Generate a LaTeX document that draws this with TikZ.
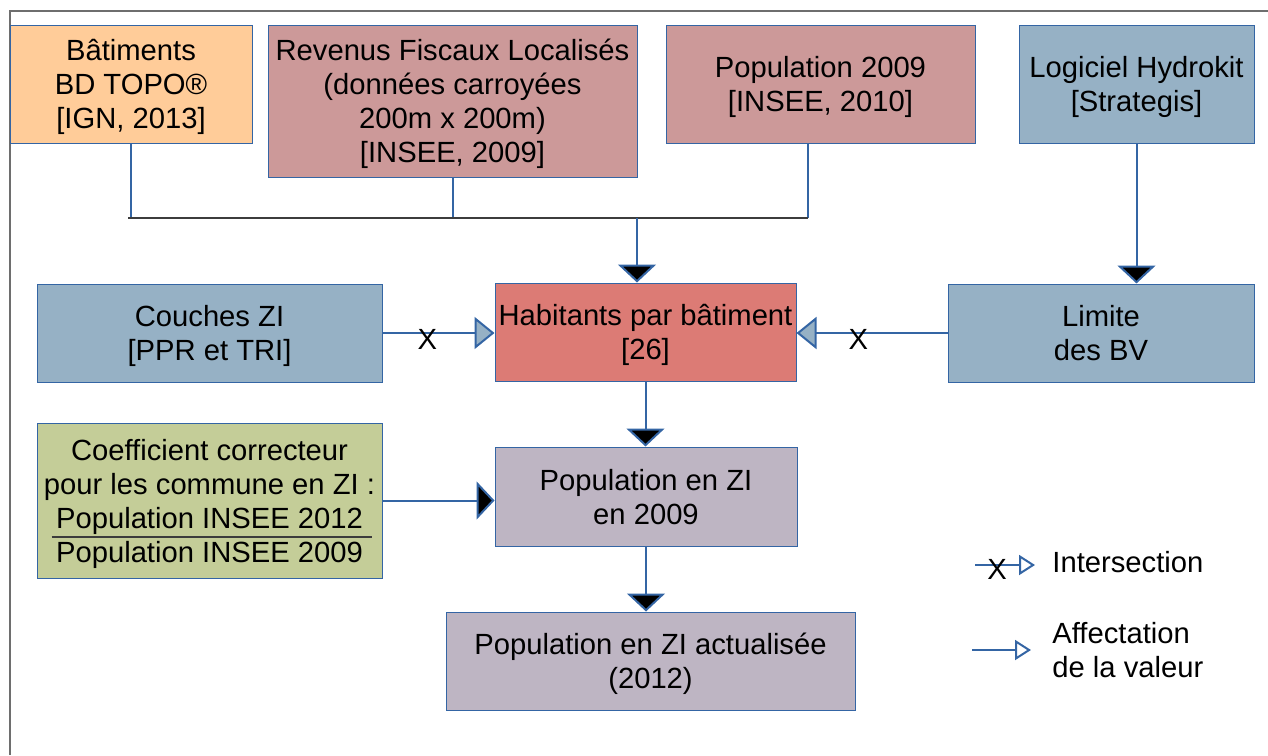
\documentclass[tikz,border=0pt]{standalone}
\usepackage{fontspec}
\setmainfont{Liberation Sans}
\usetikzlibrary{arrows.meta,positioning,calc}
\definecolor{lineblue}{RGB}{52,101,164}
\definecolor{framegray}{RGB}{110,110,110}
\definecolor{busgray}{RGB}{60,60,60}
\definecolor{orangebox}{RGB}{255,204,153}
\definecolor{rosebox}{RGB}{204,153,153}
\definecolor{bluebox}{RGB}{150,177,197}
\definecolor{redbox}{RGB}{220,123,117}
\definecolor{olivebox}{RGB}{196,205,152}
\definecolor{mauvebox}{RGB}{190,181,195}
\begin{document}
\begin{tikzpicture}[x=0.5pt, y=-0.5pt,
    main node/.style={rectangle, draw=lineblue, line width=0.5pt, align=center, inner sep=0pt, text depth=0pt},
    feed/.style={lineblue, line width=1pt, -{Triangle[width=19pt,length=9pt,fill=black]}},
    cross/.style={lineblue, line width=1pt, -{Triangle[width=16pt,length=10pt,fill=bluebox]}},
    key arrow/.style={lineblue, line width=1pt, -{Triangle[width=10pt,length=8pt,fill=white]}}]
        \tikzstyle{every node}=[font=\fontsize{14.6pt}{17pt}\selectfont, text=black]
        \useasboundingbox (0,0) rectangle (1268,755);
        \draw[framegray, line width=1pt] (10,755) -- (10,11) -- (1268,11);

          % sources
          \node[main node, fill=orangebox, minimum width=121pt, minimum height=59pt] (1) at (131,84) {Bâtiments\\BD TOPO®\\{[IGN, 2013]}};
          \node[main node, fill=rosebox, minimum width=184.5pt, minimum height=76pt] (2) at (452.5,101) {Revenus Fiscaux Localisés\\(données carroyées\\200m x 200m)\\{[INSEE, 2009]}};
          \node[main node, fill=rosebox, minimum width=154.5pt, minimum height=59pt] (3) at (820.5,84) {Population 2009\\{[INSEE, 2010]}};
          \node[main node, fill=bluebox, minimum width=117.5pt, minimum height=59pt] (4) at (1136.5,84) {Logiciel Hydrokit\\{[Strategis]}};

          \node[main node, fill=bluebox, minimum width=172.5pt, minimum height=49pt] (5) at (209.5,333) {Couches ZI\\{[PPR et TRI]}};
          \node[main node, fill=redbox, minimum width=150.5pt, minimum height=49pt] (6) at (645.5,332) {Habitants par bâtiment\\{[26]}};
          \node[main node, fill=bluebox, minimum width=153pt, minimum height=49pt] (7) at (1101,333) {Limite\\des BV};

          \node[main node, fill=olivebox, minimum width=172.5pt, minimum height=77.5pt] (8) at (209.5,500.5) {Coefficient correcteur\\pour les commune en ZI :\\Population INSEE 2012\\Population INSEE 2009};
          \node[main node, fill=mauvebox, minimum width=151pt, minimum height=49.5pt] (9) at (646,496.5) {Population en ZI\\en 2009};
          \node[main node, fill=mauvebox, minimum width=204.5pt, minimum height=49pt] (10) at (650.5,661) {Population en ZI actualisée\\(2012)};

          % legend
          \node[anchor=west, inner sep=0pt] (11) at (1052,562) {Intersection};
          \node[anchor=west, align=left, inner sep=0pt] (12) at (1052,650) {Affectation\\de la valeur};
          \coordinate (k1) at (975,565);
          \coordinate (k2) at (1035,565);
          \coordinate (k3) at (972,650);
          \coordinate (k4) at (1031,650);

          \draw[busgray, line width=0.8pt] ($(8.west)+(15,36.5)$) -- ($(8.east)+(-11,36.5)$);

          % merge of the sources
          \coordinate (busL) at (128,218);
          \coordinate (busR) at (808,218);
          \coordinate (bus) at (637,218);
          \draw[lineblue, line width=1pt] (1.south) -- (1.south |- busL)
                (2.south) -- (2.south |- busL)
                (busR |- 3.south) -- (busR);
          \draw[busgray, line width=1pt] (busL) -- (busR);

          \path[feed] (bus) edge (bus |- 6.north)
                (4.south) edge (4.south |- 7.north)
                (6.south) edge (6.south |- 9.north)
                (8.east) edge (8.east -| 9.west)
                (9.south) edge (9.south |- 10.north);
          \path[cross] (5.east) edge node[pos=0.4, yshift=-3pt] {X} (5.east -| 6.west)
                (7.west) edge node[pos=0.59, yshift=-3pt] {X} (7.west -| 6.east);
          \path[key arrow] (k1) edge node[pos=0.37, yshift=-2pt] {X} (k2)
                (k3) edge (k4);

\end{tikzpicture}
\end{document}
